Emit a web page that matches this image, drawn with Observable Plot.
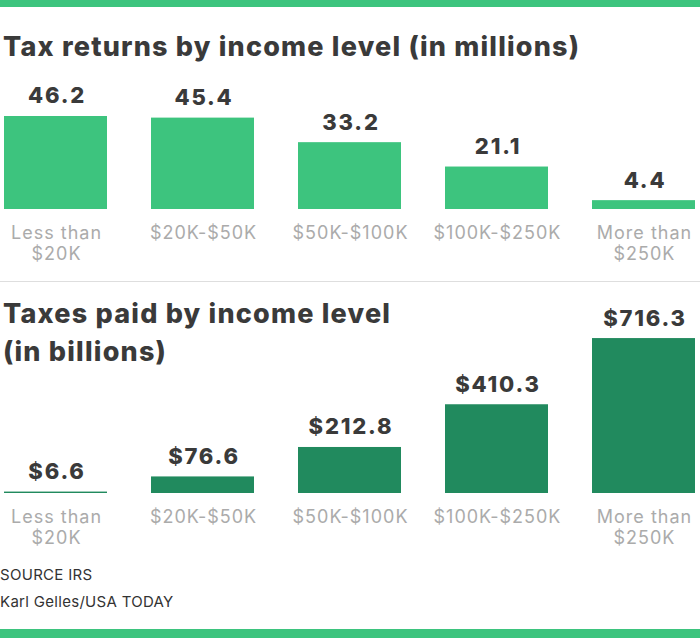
<!DOCTYPE html>
<html>
<head>
<meta charset="utf-8">
<script src="https://cdn.jsdelivr.net/npm/d3@7"></script>
<script src="https://cdn.jsdelivr.net/npm/@observablehq/plot@0.6"></script>
<style>
  html, body { margin: 0; padding: 0; background: #fff; }
  #page { position: relative; width: 700px; height: 638px; overflow: hidden; font-family: Inter, "Open Sans", sans-serif; }
  .band { position: absolute; left: 0; width: 700px; background: #3dc47e; }
  .title { position: absolute; left: 3px; font-weight: 800; font-size: 27px; line-height: 38px; color: #3a3a3a; z-index: 2; letter-spacing: 1.2px; }
  .sep { position: absolute; left: 0; width: 700px; top: 281px; height: 1px; background: #dedede; }
  .plot { position: absolute; left: 0; z-index: 1; }
  .src { position: absolute; left: 0; font-size: 15px; line-height: 26.7px; color: #333; letter-spacing: 0.3px; }
  .plot g[font-weight="700"] { letter-spacing: 1.8px; font-weight: 800; }
  .plot g[font-weight="400"] { letter-spacing: 1px; }
</style>
</head>
<body>
<div id="page">
  <div class="band" style="top:0;height:7px"></div>
  <div class="title" id="t1" style="top:28px">Tax returns by income level (in millions)</div>
  <div class="plot" id="p1" style="top:75px"></div>
  <div class="sep"></div>
  <div class="title" id="t2" style="top:295px">Taxes paid by income level<br>(in billions)</div>
  <div class="plot" id="p2" style="top:285px"></div>
  <div class="src" style="top:562px">SOURCE IRS<br>Karl Gelles/USA TODAY</div>
  <div class="band" style="top:629px;height:9px"></div>
</div>
<script>
const categories = ["Less than\n$20K", "$20K-$50K", "$50K-$100K", "$100K-$250K", "More than\n$250K"];
const returnsMillions = [46.2, 45.4, 33.2, 21.1, 4.4];
const taxesBillions = [6.6, 76.6, 212.8, 410.3, 716.3];

const lightGreen = "#3dc47e";
const darkGreen = "#218a5e";

function panel(values, fmt, color, height, baseline, pxPerUnit, domainMax) {
  const data = categories.map((c, i) => ({cat: c, v: values[i]}));
  return Plot.plot({
    width: 700,
    height,
    marginLeft: 2.5,
    marginRight: 3,
    marginTop: 0,
    marginBottom: 0,
    style: {background: "transparent", overflow: "visible", fontFamily: "Inter, 'Open Sans', sans-serif"},
    x: {domain: categories, paddingInner: 0.3, paddingOuter: 0, axis: null},
    y: {domain: [0, domainMax], range: [baseline, baseline - domainMax * pxPerUnit], axis: null},
    marks: [
      Plot.barY(data, {x: "cat", y: "v", fill: color}),
      Plot.text(data, {x: "cat", y: "v", text: d => fmt(d.v), dy: -13, dx: 1, lineAnchor: "bottom",
        fontSize: 22, fontWeight: 700, fill: "#3a3a3a"}),
      Plot.text(data, {x: "cat", y: d => 0, text: "cat", dy: 14, dx: 0.5, lineAnchor: "top",
        fontSize: 18, fontWeight: 400, fill: "#ababab", lineHeight: 1.2})
    ]
  });
}

document.getElementById("p1").appendChild(
  panel(returnsMillions, v => v.toFixed(1), lightGreen, 200, 134, 2.013, 50));
document.getElementById("p2").appendChild(
  panel(taxesBillions, v => "$" + v.toFixed(1), darkGreen, 280, 208, 0.2163, 800));
</script>
</body>
</html>
